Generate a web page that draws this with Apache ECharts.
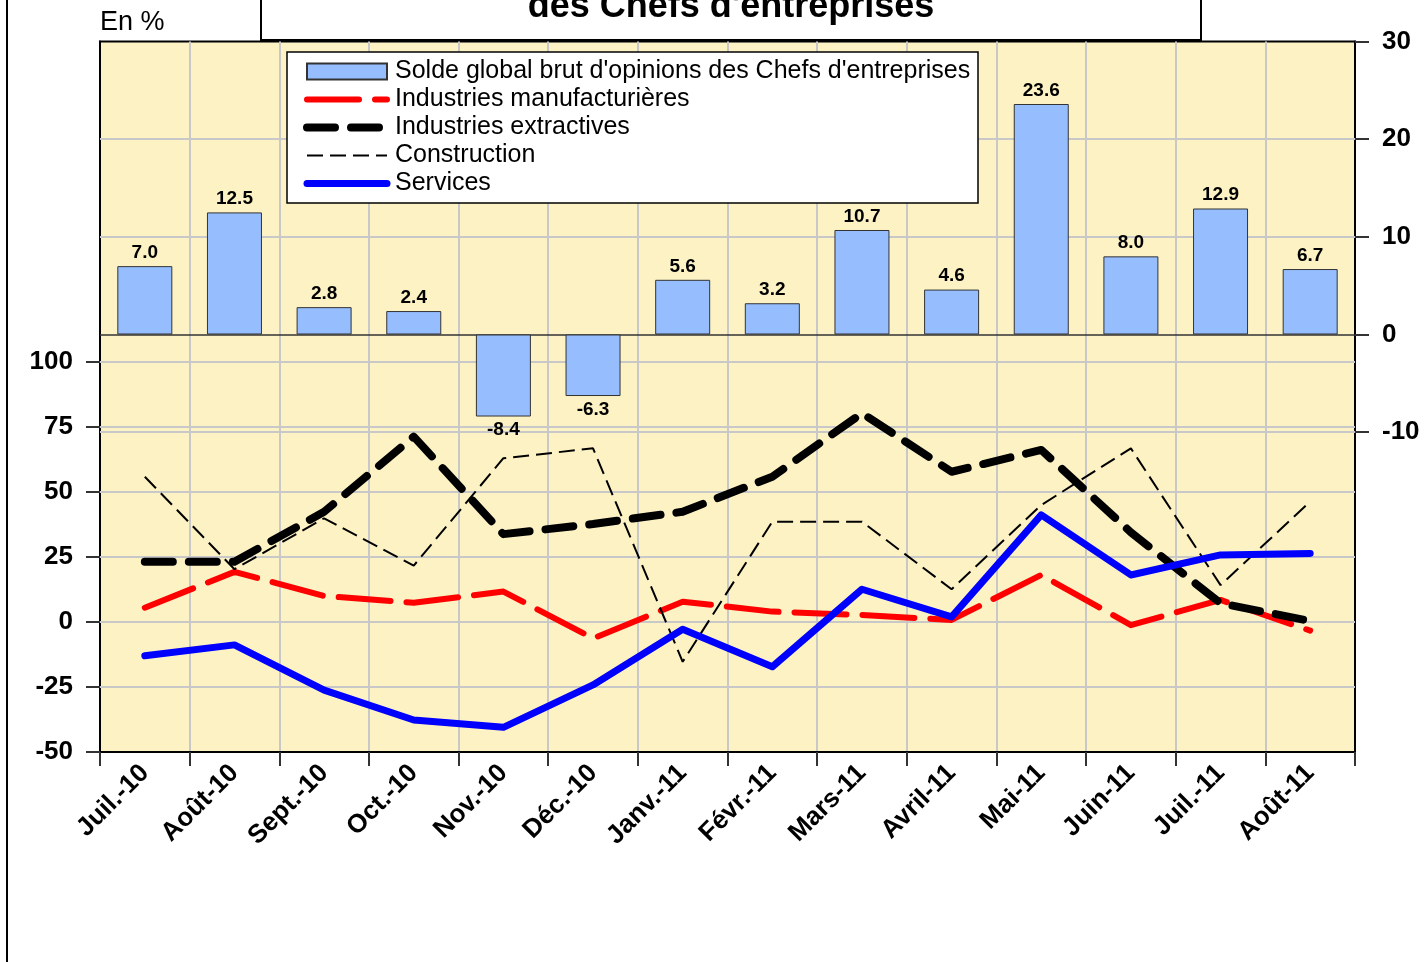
<!DOCTYPE html>
<html>
<head>
<meta charset="utf-8">
<title>Solde d'opinions des Chefs d'entreprises</title>
<script src="https://cdn.jsdelivr.net/npm/echarts@6/dist/echarts.min.js"></script>
<style>
  html, body { margin: 0; padding: 0; background: #fff; }
  #chart { width: 1426px; height: 962px; }
</style>
</head>
<body>
<div id="chart"></div>
<script>
// months on the x axis
const categories = ['Juil.-10', 'Août-10', 'Sept.-10', 'Oct.-10', 'Nov.-10', 'Déc.-10', 'Janv.-11',
                    'Févr.-11', 'Mars-11', 'Avril-11', 'Mai-11', 'Juin-11', 'Juil.-11', 'Août-11'];

// bars, right axis
const soldeGlobal = [7.0, 12.5, 2.8, 2.4, -8.4, -6.3, 5.6, 3.2, 10.7, 4.6, 23.6, 8.0, 12.9, 6.7];

// lines, left axis
const manufacturieres = [5.5, 19.3, 10.0, 7.4, 11.7, -6.3, 7.8, 4.0, 2.7, 0.8, 18.1, -1.2, 8.5, -3.3];
const extractives = [23.2, 23.2, 42.4, 71.3, 33.8, 37.7, 42.4, 55.9, 80.3, 57.8, 66.2, 34.5, 7.2, 0.4];
const construction = [55.9, 20.3, 39.9, 21.7, 63.0, 66.8, -15.3, 38.6, 38.6, 12.6, 45.0, 66.8, 14.2, 46.3];
const services = [-13.0, -8.8, -26.2, -37.7, -40.5, -24.2, -2.8, -17.2, 12.6, 2.0, 41.2, 18.1, 25.8, 26.4];

// tick labels
const leftTicks = [-50, -25, 0, 25, 50, 75, 100];
const rightTicks = [-10, 0, 10, 20, 30];
const leftGrid = [-25, 0, 25, 50, 75, 100];
const rightGrid = [-10, 10, 20];

const names = [
    "Solde global brut d'opinions des Chefs d'entreprises",
    'Industries manufacturières',
    'Industries extractives',
    'Construction',
    'Services'
];

const FONT = '"Liberation Sans", Arial, sans-serif';
const GRIDCOL = '#C8C8C8';

// line looks, shared by series and legend
const styleManuf = {color: '#FF0000', width: 6, type: [52, 16], cap: 'round', join: 'round'};
const styleExtr = {color: '#000', width: 8, type: [28, 16], cap: 'round', join: 'round'};
const styleConst = {color: '#000', width: 2, type: [16, 7]};
const styleServ = {color: '#0000FF', width: 7, type: 'solid', cap: 'round', join: 'round'};

let chart = echarts.init(document.getElementById('chart'), null, {renderer: 'canvas'});

chart.setOption({
    animation: false,
    backgroundColor: '#fff',
    textStyle: {fontFamily: FONT},
    grid: {
        left: 100, right: 71, top: 41.5, bottom: 210,
        show: true,
        backgroundColor: '#FCF2C4',
        borderColor: '#000',
        borderWidth: 2
    },
    graphic: [
        {type: 'line', z: 10, shape: {x1: 7, y1: 0, x2: 7, y2: 962}, style: {stroke: '#000', lineWidth: 2}},
        {type: 'rect', z: 10, shape: {x: 261, y: -10, width: 940, height: 50},
            style: {fill: '#fff', stroke: '#000', lineWidth: 2}},
        {type: 'text', z: 11, x: 731, y: 7.5,
            style: {text: "des Chefs d'entreprises", font: 'bold 36px ' + FONT, fill: '#000',
                align: 'center', verticalAlign: 'middle', textAlign: 'center', textVerticalAlign: 'middle'}},
        {type: 'text', z: 11, x: 100, y: 23,
            style: {text: 'En %', font: '27px ' + FONT, fill: '#000',
                align: 'left', verticalAlign: 'middle', textAlign: 'left', textVerticalAlign: 'middle'}},
        // legend frame
        {type: 'rect', z: 3, shape: {x: 287, y: 52, width: 691, height: 151},
            style: {fill: '#fff', stroke: '#000', lineWidth: 1.5}}
    ],
    legend: {
        orient: 'vertical',
        left: 287, top: 52,
        padding: [7, 12, 6, 16],
        itemGap: 3,
        itemWidth: 80,
        itemHeight: 16,
        z: 4,
        selectedMode: false,
        textStyle: {fontSize: 25, color: '#000', fontFamily: FONT, padding: [0, 0, 0, 3]},
        data: [
            {name: names[0], icon: 'rect'},
            {name: names[1], itemStyle: {opacity: 0}, lineStyle: styleManuf},
            {name: names[2], itemStyle: {opacity: 0}, lineStyle: styleExtr},
            {name: names[3], itemStyle: {opacity: 0}, lineStyle: styleConst},
            {name: names[4], itemStyle: {opacity: 0}, lineStyle: styleServ}
        ]
    },
    xAxis: {
        type: 'category',
        data: categories,
        boundaryGap: true,
        axisLine: {onZero: false, lineStyle: {color: '#000', width: 2}},
        axisTick: {show: true, length: 14, lineStyle: {color: '#333', width: 2}},
        axisLabel: {interval: 0, rotate: 45, margin: 17, fontSize: 26, fontWeight: 'bold', color: '#000', fontFamily: FONT},
        splitLine: {show: true, lineStyle: {color: GRIDCOL, width: 2}}
    },
    yAxis: [
        {
            type: 'value',
            position: 'left',
            min: -50, max: 223.3,
            axisLine: {show: true, lineStyle: {color: '#000', width: 2}},
            axisTick: {show: true, length: 14, customValues: leftTicks, lineStyle: {color: '#333', width: 2}},
            axisLabel: {customValues: leftTicks, margin: 27, fontSize: 26, fontWeight: 'bold', color: '#000', fontFamily: FONT},
            splitLine: {show: false}
        },
        {
            type: 'value',
            position: 'right',
            min: -42.75, max: 30,
            axisLine: {show: true, lineStyle: {color: '#000', width: 2}},
            axisTick: {show: true, length: 14, customValues: rightTicks, lineStyle: {color: '#333', width: 2}},
            axisLabel: {customValues: rightTicks, margin: 27, fontSize: 26, fontWeight: 'bold', color: '#000', fontFamily: FONT},
            splitLine: {show: false}
        }
    ],
    series: [
        {
            name: names[0],
            type: 'bar',
            yAxisIndex: 1,
            barWidth: 55,
            itemStyle: {color: '#96BEFF', borderColor: '#333', borderWidth: 1},
            label: {
                show: true,
                distance: 4,
                fontSize: 19,
                fontWeight: 'bold',
                color: '#000',
                fontFamily: FONT,
                formatter: (p) => p.value.toFixed(1)
            },
            data: soldeGlobal.map((v) => ({value: v, label: {position: v < 0 ? 'bottom' : 'top'}})),
            markLine: {
                silent: true,
                z: 1,
                symbol: ['none', 'none'],
                label: {show: false},
                lineStyle: {color: GRIDCOL, width: 2, type: 'solid'},
                data: rightGrid.map((v) => ({yAxis: v})).concat([
                    {yAxis: 0, lineStyle: {color: '#333', width: 1.5, type: 'solid'}}
                ])
            }
        },
        {
            name: names[1],
            type: 'line',
            yAxisIndex: 0,
            symbol: 'none',
            lineStyle: styleManuf,
            itemStyle: {color: '#FF0000'},
            data: manufacturieres,
            markLine: {
                silent: true,
                z: 1,
                symbol: ['none', 'none'],
                label: {show: false},
                lineStyle: {color: GRIDCOL, width: 2, type: 'solid'},
                data: leftGrid.map((v) => ({yAxis: v}))
            }
        },
        {
            name: names[2],
            type: 'line',
            yAxisIndex: 0,
            symbol: 'none',
            lineStyle: styleExtr,
            itemStyle: {color: '#000'},
            data: extractives
        },
        {
            name: names[3],
            type: 'line',
            yAxisIndex: 0,
            symbol: 'none',
            lineStyle: styleConst,
            itemStyle: {color: '#000'},
            data: construction
        },
        {
            name: names[4],
            type: 'line',
            yAxisIndex: 0,
            symbol: 'none',
            lineStyle: styleServ,
            itemStyle: {color: '#0000FF'},
            data: services
        }
    ]
});
</script>
</body>
</html>
